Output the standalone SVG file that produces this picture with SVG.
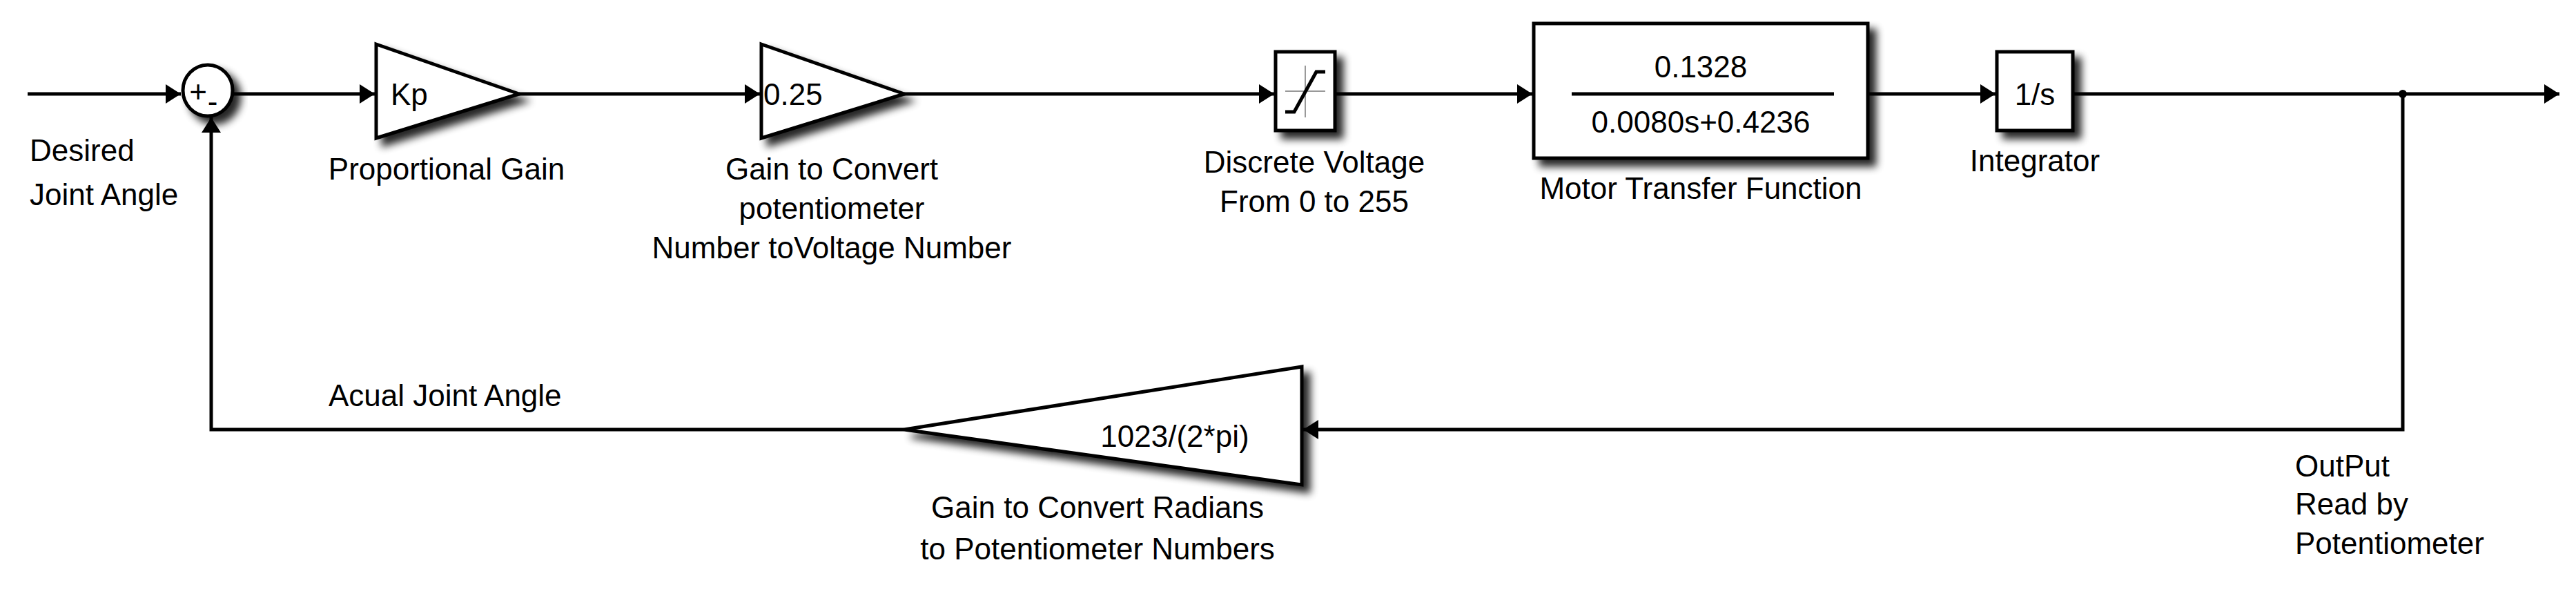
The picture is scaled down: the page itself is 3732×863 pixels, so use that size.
<svg xmlns="http://www.w3.org/2000/svg" width="3732" height="863" viewBox="0 0 3732 863">
<style>
.t{font-family:"Liberation Sans",Arial,sans-serif;font-size:44px;fill:#000}
.b{fill:#fff;stroke:#000;stroke-width:5}
.w{fill:none;stroke:#000;stroke-width:5}
</style>
<defs>
<marker id="ah" viewBox="0 0 10 10" refX="10" refY="5" markerWidth="22" markerHeight="28" orient="auto" markerUnits="userSpaceOnUse" preserveAspectRatio="none"><path d="M0,0 L10,5 L0,10 z"/></marker>
<filter id="s" x="-20%" y="-20%" width="150%" height="150%"><feGaussianBlur in="SourceAlpha" stdDeviation="6"/><feOffset dx="10" dy="10"/><feComponentTransfer><feFuncA type="linear" slope="0.85"/></feComponentTransfer><feMerge><feMergeNode/><feMergeNode in="SourceGraphic"/></feMerge></filter>
</defs>
<rect width="3732" height="863" fill="#fff"/>
<g id="connectors" class="w">
<path d="M40,136 H262" marker-end="url(#ah)"/>
<path d="M338,136 H543" marker-end="url(#ah)"/>
<path d="M752,136 H1101" marker-end="url(#ah)"/>
<path d="M1310,136 H1846" marker-end="url(#ah)"/>
<path d="M1936,136 H2220" marker-end="url(#ah)"/>
<path d="M2708,136 H2891" marker-end="url(#ah)"/>
<path d="M3005,136 H3708" marker-end="url(#ah)"/>
<path d="M3481,136 V622 H1888" marker-end="url(#ah)"/>
<path d="M1310,622 H306 V170" marker-end="url(#ah)"/>
<circle cx="3481" cy="136" r="6" fill="#000" stroke="none"/>
</g>
<g id="sum"><ellipse class="b" cx="301" cy="131" rx="36" ry="37" filter="url(#s)"/><text class="t" x="287" y="148" font-size="34" text-anchor="middle">+</text><text class="t" x="308" y="162" font-size="34" text-anchor="middle">-</text></g>
<g id="desired"><text class="t" x="43" y="233">Desired</text><text class="t" x="43" y="297">Joint Angle</text></g>
<g id="kp"><path class="b" d="M545,64 L752,136 L545,200 z" filter="url(#s)"/><text class="t" x="566" y="152">Kp</text><text class="t" x="647" y="260" text-anchor="middle">Proportional Gain</text></g>
<g id="g025"><path class="b" d="M1103,64 L1310,136 L1103,200 z" filter="url(#s)"/><text class="t" x="1106" y="152">0.25</text><text class="t" x="1205" y="260" text-anchor="middle">Gain to Convert</text><text class="t" x="1205" y="317" text-anchor="middle">potentiometer</text><text class="t" x="1205" y="374" text-anchor="middle">Number toVoltage Number</text></g>
<g id="sat"><rect class="b" x="1848" y="75" width="86" height="114" filter="url(#s)"/><path d="M1862,132 H1920 M1891,95 V170" stroke="#999" stroke-width="2"/><path d="M1862,162 L1875,162 L1907,104 L1920,104" class="w" stroke-width="3"/><text class="t" x="1904" y="250" text-anchor="middle">Discrete Voltage</text><text class="t" x="1904" y="307" text-anchor="middle">From 0 to 255</text></g>
<g id="motor"><rect class="b" x="2222" y="34" width="484" height="195" filter="url(#s)"/><text class="t" x="2464" y="112" text-anchor="middle">0.1328</text><path d="M2277,136 H2657" class="w"/><text class="t" x="2464" y="192" text-anchor="middle">0.0080s+0.4236</text><text class="t" x="2464" y="288" text-anchor="middle">Motor Transfer Function</text></g>
<g id="integrator"><rect class="b" x="2893" y="75" width="110" height="114" filter="url(#s)"/><text class="t" x="2948" y="152" text-anchor="middle">1/s</text><text class="t" x="2948" y="248" text-anchor="middle">Integrator</text></g>
<g id="fbgain"><path class="b" d="M1886,531 L1310,622 L1886,702 z" filter="url(#s)"/><text class="t" x="1702" y="647" text-anchor="middle">1023/(2*pi)</text><text class="t" x="1590" y="750" text-anchor="middle">Gain to Convert Radians</text><text class="t" x="1590" y="810" text-anchor="middle">to Potentiometer Numbers</text></g>
<g id="labels"><text class="t" x="476" y="588">Acual Joint Angle</text><text class="t" x="3325" y="690">OutPut</text><text class="t" x="3325" y="745">Read by</text><text class="t" x="3325" y="802">Potentiometer</text></g>
</svg>
